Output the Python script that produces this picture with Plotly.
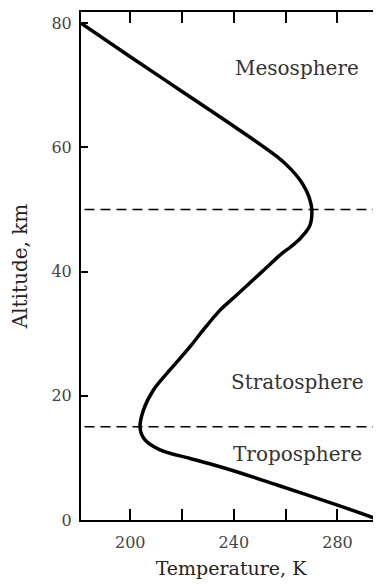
import plotly.graph_objs as go

# temperature profile (K) vs altitude (km)
temp = [181, 200, 220, 240, 256.7, 262, 265.6, 268, 269.4, 270.1, 269.4, 266.2, 262,
        258.5, 250.9, 241, 234.7, 228.2, 223.1, 215.4, 208.9, 205.1, 203.8, 205.7,
        211.5, 223.1, 237, 257, 280, 296.4]
alt = [80, 74.6, 69, 63.4, 58.5, 56.5, 54.7, 53, 51.5, 50, 47.5, 45.6, 44,
       42.9, 40, 36.2, 33.8, 30.6, 27.9, 24.2, 20.9, 17.7, 14.8, 12.9,
       11.3, 9.9, 8.3, 5.6, 2.4, 0]

boundaries = [50, 15]
layer_names = ['Mesosphere', 'Stratosphere', 'Troposphere']
layer_alt = [72.8, 22.3, 10.6]
layer_temp = 264.5

x_ticks = [200, 220, 240, 260, 280]
x_labels = ['200', '', '240', '', '280']
y_ticks = [0, 20, 40, 60, 80]

serif = 'DejaVu Serif'

fig = go.Figure()

for b in boundaries:
    fig.add_trace(go.Scatter(x=[170, 310], y=[b, b], mode='lines',
                             line=dict(color='black', width=1.5, dash='10px,6px'),
                             hoverinfo='skip'))

fig.add_trace(go.Scatter(x=temp, y=alt, mode='lines',
                         line=dict(color='black', width=3.5, shape='spline', smoothing=1.0)))

for name, a in zip(layer_names, layer_alt):
    fig.add_annotation(x=layer_temp, y=a, text=name, showarrow=False,
                       font=dict(family=serif, size=20, color='#333'))

fig.update_xaxes(range=[181, 296.8], tickvals=x_ticks, ticktext=x_labels,
                 ticks='inside', ticklen=11, tickwidth=1.5, tickcolor='black',
                 showline=True, linecolor='black', linewidth=2, mirror='ticks',
                 showgrid=False, zeroline=False, automargin=False,
                 ticklabelstandoff=7,
                 tickfont=dict(family=serif, size=16, color='#444'),
                 title=dict(text='Temperature, K', standoff=12,
                            font=dict(family=serif, size=19, color='#222')))

fig.update_yaxes(range=[0, 81.8], tickvals=y_ticks,
                 ticks='inside', ticklen=7, tickwidth=1.5, tickcolor='black',
                 showline=True, linecolor='black', linewidth=2, mirror='ticks',
                 showgrid=False, zeroline=False, automargin=False,
                 ticklabelstandoff=4,
                 tickfont=dict(family=serif, size=16, color='#444'),
                 title=dict(text='Altitude, km', standoff=20,
                            font=dict(family=serif, size=20, color='#222')))

fig.update_layout(width=373, height=571, autosize=False, showlegend=False,
                  margin=dict(l=73, r=0, t=4, b=59),
                  plot_bgcolor='white', paper_bgcolor='white')

fig.write_html("out.html")
